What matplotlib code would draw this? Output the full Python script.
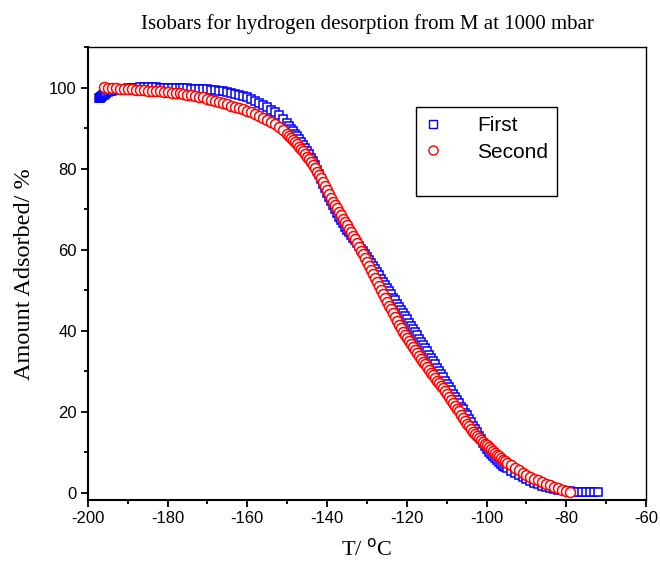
import numpy as np
import matplotlib
matplotlib.use("Agg")
import matplotlib.pyplot as plt
from matplotlib.lines import Line2D
from matplotlib.ticker import MultipleLocator

# first run (blue squares)
first_T = [
    -197.2, -197.0, -196.8, -196.6, -196.4, -196.2, -196.0, -195.7, -195.4, -195.0,
    -194.5, -194.0, -193, -192, -191, -190, -189, -188, -187, -186,
    -185, -184, -183, -182, -181, -180, -179, -178, -177, -176,
    -175, -174, -173, -172, -171, -170, -169, -168, -167, -166,
    -165, -164, -163, -162, -161, -160, -159, -158, -157, -156,
    -155, -154, -153, -152, -151,
    -150, -149.5, -149, -148.5, -148, -147.5, -147, -146.5, -146, -145.5,
    -145, -144.5, -144, -143.5, -143, -142.5, -142, -141.5, -141, -140.5,
    -140, -139.5, -139, -138.5, -138, -137.5, -137, -136.5, -136, -135.5,
    -135, -134.5, -134, -133.5, -133, -132.5, -132, -131.5, -131, -130.5,
    -130, -129.5, -129, -128.5, -128, -127.5, -127, -126.5, -126, -125.5,
    -125, -124.5, -124, -123.5, -123, -122.5, -122, -121.5, -121, -120.5,
    -120, -119.5, -119, -118.5, -118, -117.5, -117, -116.5, -116, -115.5,
    -115, -114.5, -114, -113.5, -113, -112.5, -112, -111.5, -111, -110.5,
    -110, -109.5, -109, -108.5, -108, -107.5, -107, -106.5, -106, -105.5,
    -105, -104.5, -104, -103.5, -103, -102.5, -102, -101.5, -101, -100.5,
    -100, -99.5, -99, -98.5, -98, -97.5, -97, -96.5, -96, -95.5,
    -95, -94, -93, -92, -91, -90, -89, -88, -87, -86,
    -85, -84, -83, -82, -81, -80, -79, -78, -77, -76,
    -75, -74, -73, -72,
]
first_amt = [
    97.4, 97.5, 97.6, 97.8, 97.9, 98.1, 98.3, 98.5, 98.7, 98.9,
    99.1, 99.3, 99.5, 99.7, 99.8, 99.9, 100.0, 100.0, 100.1, 100.1,
    100.1, 100.1, 100.1, 100.0, 100.0, 100.0, 99.9, 99.9, 100.0, 99.9,
    99.9, 99.8, 99.8, 99.7, 99.7, 99.6, 99.5, 99.4, 99.3, 99.1,
    98.9, 98.7, 98.5, 98.2, 97.9, 97.6, 97.2, 96.8, 96.3, 95.8,
    95.2, 94.6, 94.0, 93.3, 92.3,
    91.2, 90.6, 89.9, 89.3, 88.6, 88.0, 87.3, 86.6, 85.9, 85.2,
    84.4, 83.6, 82.7, 81.8, 80.9, 79.8, 78.6, 77.4, 76.3, 75.2,
    74.1, 73.0, 72.0, 71.0, 70.0, 69.1, 68.2, 67.3, 66.5, 65.7,
    65.0, 64.3, 63.6, 62.9, 62.3, 61.7, 61.0, 60.3, 59.6, 58.9,
    58.2, 57.5, 56.7, 56.0, 55.2, 54.4, 53.7, 52.9, 52.1, 51.3,
    50.6, 49.8, 49.0, 48.2, 47.5, 46.7, 45.9, 45.1, 44.4, 43.6,
    42.8, 42.0, 41.3, 40.5, 39.7, 38.9, 38.1, 37.3, 36.5, 35.7,
    34.9, 34.1, 33.3, 32.5, 31.7, 30.9, 30.1, 29.3, 28.5, 27.7,
    26.9, 26.1, 25.3, 24.5, 23.7, 22.9, 22.1, 21.3, 20.6, 19.8,
    19.1, 18.2, 17.4, 16.5, 15.7, 14.9, 14.1, 13.2, 12.4, 11.6,
    10.9, 10.2, 9.6, 9.0, 8.5, 8.0, 7.5, 7.1, 6.7, 6.4,
    6.1, 5.5, 4.9, 4.3, 3.8, 3.3, 2.9, 2.5, 2.1, 1.8,
    1.5, 1.2, 1.0, 0.8, 0.6, 0.5, 0.4, 0.3, 0.3, 0.2,
    0.2, 0.2, 0.2, 0.2,
]

# second run (red circles)
second_T = [
    -196, -195, -194, -193, -192, -191, -190, -189, -188, -187,
    -186, -185, -184, -183, -182, -181, -180, -179, -178, -177,
    -176, -175, -174, -173, -172, -171, -170, -169, -168, -167,
    -166, -165, -164, -163, -162, -161, -160, -159, -158, -157,
    -156, -155, -154, -153, -152, -151,
    -150, -149.5, -149, -148.5, -148, -147.5, -147, -146.5, -146, -145.5,
    -145, -144.5, -144, -143.5, -143, -142.5, -142, -141.5, -141, -140.5,
    -140, -139.5, -139, -138.5, -138, -137.5, -137, -136.5, -136, -135.5,
    -135, -134.5, -134, -133.5, -133, -132.5, -132, -131.5, -131, -130.5,
    -130, -129.5, -129, -128.5, -128, -127.5, -127, -126.5, -126, -125.5,
    -125, -124.5, -124, -123.5, -123, -122.5, -122, -121.5, -121, -120.5,
    -120, -119.5, -119, -118.5, -118, -117.5, -117, -116.5, -116, -115.5,
    -115, -114.5, -114, -113.5, -113, -112.5, -112, -111.5, -111, -110.5,
    -110, -109.5, -109, -108.5, -108, -107.5, -107, -106.5, -106, -105.5,
    -105, -104.5, -104, -103.5, -103, -102.5, -102, -101.5, -101, -100.5,
    -100, -99.5, -99, -98.5, -98, -97.5, -97, -96.5, -96, -95.5,
    -95, -94, -93, -92, -91, -90, -89, -88, -87, -86,
    -85, -84, -83, -82, -81, -80, -79,
]
second_amt = [
    100.1, 100.0, 99.9, 99.9, 99.8, 99.8, 99.7, 99.6, 99.5, 99.5,
    99.4, 99.3, 99.2, 99.2, 99.1, 99.0, 98.9, 98.8, 98.7, 98.6,
    98.5, 98.3, 98.2, 98.0, 97.8, 97.6, 97.3, 97.0, 96.8, 96.5,
    96.2, 95.9, 95.6, 95.3, 95.0, 94.7, 94.3, 93.9, 93.5, 93.1,
    92.6, 92.1, 91.6, 91.0, 90.4, 89.6,
    88.7, 88.2, 87.7, 87.2, 86.6, 86.0, 85.4, 84.9, 84.3, 83.7,
    83.0, 82.3, 81.6, 80.9, 80.1, 79.3, 78.5, 77.6, 76.7, 75.8,
    74.8, 73.8, 72.8, 71.9, 71.1, 70.2, 69.4, 68.5, 67.7, 66.8,
    66.0, 65.1, 64.3, 63.4, 62.6, 61.7, 60.8, 59.8, 58.9, 57.9,
    57.0, 56.0, 55.0, 54.0, 53.1, 52.1, 51.1, 50.1, 49.2, 48.2,
    47.2, 46.2, 45.3, 44.3, 43.4, 42.4, 41.5, 40.6, 39.7, 38.9,
    38.2, 37.4, 36.7, 35.9, 35.2, 34.5, 33.8, 33.1, 32.4, 31.7,
    31.0, 30.3, 29.7, 29.0, 28.4, 27.7, 27.1, 26.4, 25.8, 25.1,
    24.5, 23.7, 23.0, 22.2, 21.5, 20.8, 20.1, 19.3, 18.6, 17.8,
    17.1, 16.4, 15.7, 15.1, 14.6, 14.1, 13.6, 13.1, 12.6, 12.1,
    11.7, 11.2, 10.8, 10.3, 9.9, 9.4, 9.0, 8.6, 8.2, 7.8,
    7.4, 6.8, 6.2, 5.6, 5.0, 4.5, 4.0, 3.5, 3.1, 2.7,
    2.3, 1.9, 1.5, 1.1, 0.8, 0.5, 0.1,
]

serif = ["Liberation Serif", "DejaVu Serif"]
sans = ["Liberation Sans", "DejaVu Sans"]

plt.rc("font", family=sans)
plt.rc("axes", unicode_minus=False)
plt.rc("xtick", labelsize=12)
plt.rc("ytick", labelsize=12)

fig = plt.figure(figsize=(6.6, 5.69), dpi=100)
ax = fig.add_axes([0.133, 0.121, 0.846, 0.796])

ax.plot(first_T, first_amt, "s", ms=6.0, mfc="white", mec="#0000ff", mew=1.1,
        linestyle="none")
ax.plot(second_T, second_amt, "o", ms=7.2, mfc="white", mec="#ff0000", mew=1.1,
        linestyle="none")

ax.set_xlim(-200, -60)
ax.set_ylim(-1.8, 110)
ax.xaxis.set_major_locator(MultipleLocator(20))
ax.xaxis.set_minor_locator(MultipleLocator(10))
ax.yaxis.set_major_locator(MultipleLocator(20))
ax.yaxis.set_minor_locator(MultipleLocator(10))
ax.tick_params(which="both", direction="out", top=False, right=False, width=1.3)
ax.tick_params(which="major", length=5, pad=3)
ax.tick_params(which="minor", length=3)

for side in ["left", "bottom"]:
    ax.spines[side].set_linewidth(1.5)
for side in ["top", "right"]:
    ax.spines[side].set_linewidth(1.0)

ax.set_title("Isobars for hydrogen desorption from M at 1000 mbar",
             family=serif, fontsize=15, pad=13)
ax.set_xlabel("T/ $^{\\rm o}$C", family=serif, fontsize=16, labelpad=9)
ax.set_ylabel("Amount Adsorbed/ %", family=serif, fontsize=17.5, labelpad=10)

handles = [
    Line2D([], [], marker="s", ms=5.2, mfc="white", mec="#0000ff", ls="none"),
    Line2D([], [], marker="o", ms=6.6, mfc="white", mec="#ff0000", ls="none"),
    Line2D([], [], ls="none"),
]
leg = ax.legend(handles, ["First", "Second", " "], loc="upper left",
                bbox_to_anchor=(0.587, 0.868), borderaxespad=0,
                fontsize=15, frameon=True, fancybox=False,
                edgecolor="black", framealpha=1,
                handletextpad=1.7, borderpad=0.45, labelspacing=0.35,
                handlelength=0.8)
leg.get_frame().set_linewidth(1.0)
leg.get_texts()[2].set_fontsize(9)

fig.savefig("out.png", dpi=100)
